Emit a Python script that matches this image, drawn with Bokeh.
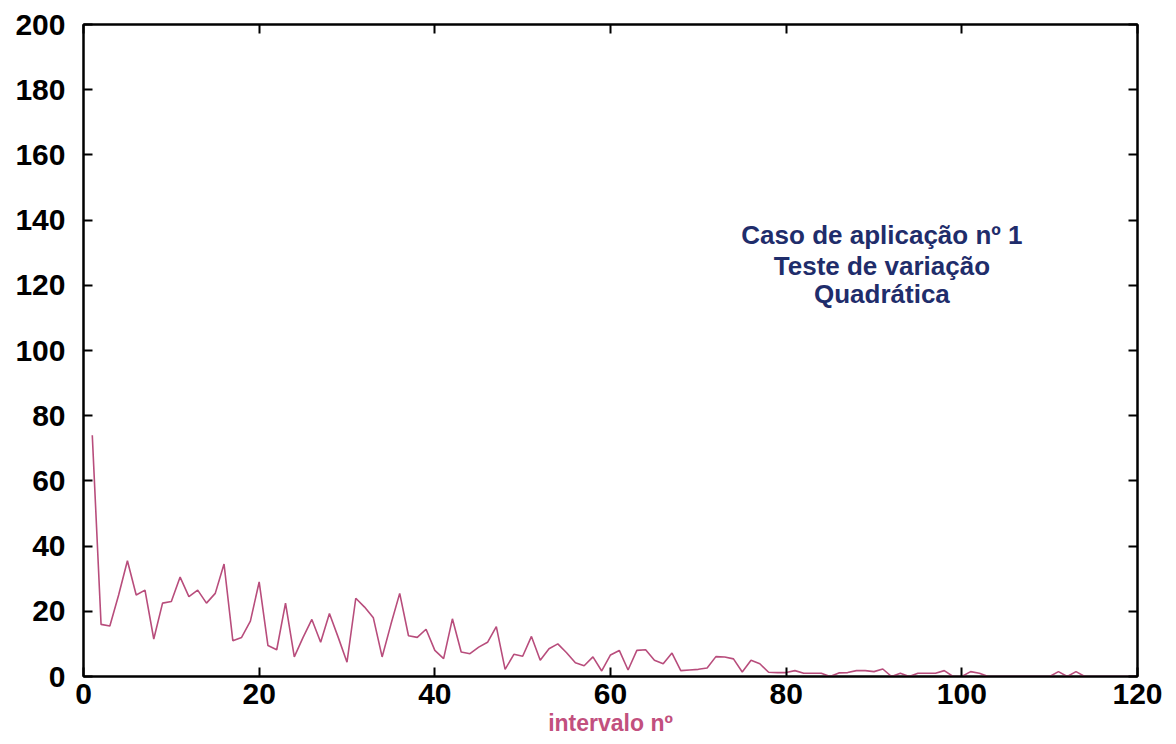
from bokeh.plotting import figure
from bokeh.models import Range1d, LinearAxis, FixedTicker, CustomJSTickFormatter, ColumnDataSource
from bokeh.core.properties import value
from bokeh.embed import file_html
from bokeh.resources import INLINE

# ---- data ----
intervalo = list(range(1, 121))
valores = [
    74, 16, 15.5, 25, 35.5, 25, 26.5, 11.5, 22.5, 23,
    30.5, 24.5, 26.5, 22.5, 25.5, 34.5, 11, 12, 17, 29,
    9.5, 8.2, 22.5, 6, 12, 17.5, 10.5, 19.3, 12, 4.4,
    24, 21.3, 18, 6, 16, 25.5, 12.5, 12, 14.5, 8,
    5.5, 17.7, 7.5, 7, 9, 10.5, 15.3, 2.2, 6.8, 6.2,
    12.3, 5, 8.5, 10, 7.3, 4.2, 3.3, 6, 1.7, 6.6,
    8, 2, 8, 8.2, 5, 3.9, 7.2, 1.8, 2, 2.2,
    2.6, 6.1, 6, 5.4, 1.4, 5, 3.9, 1.3, 1.2, 1.2,
    1.8, 1, 1, 1, 0, 1.1, 1.2, 1.8, 1.8, 1.5,
    2.3, 0, 1, 0, 1, 1, 1, 1.8, 0, 0,
    1.5, 1, 0, 0, 0, 0, 0, 0, 0, 0,
    1.5, 0, 1.5, 0, 0, 0, 0, 0, 0, 0,
]
x_ticks = [0, 20, 40, 60, 80, 100, 120]
y_ticks = [0, 20, 40, 60, 80, 100, 120, 140, 160, 180, 200]
x_label = "intervalo nº"
note_lines = ["Caso de aplicação nº 1", "Teste de variação", "Quadrática"]
note_x = [90.9, 90.9, 90.9]
note_y = [135.3, 126.0, 117.4]

FONT = "Liberation Sans"
LINE_COLOR = "#b84d7c"

p = figure(width=1176, height=744, output_backend="svg", toolbar_location=None,
           x_range=Range1d(0, 120), y_range=Range1d(0, 200),
           min_border_left=83, min_border_right=39, min_border_top=24, min_border_bottom=68)
p.background_fill_color = "white"
p.border_fill_color = "white"
p.grid.visible = False
p.outline_line_color = "black"
p.outline_line_width = 2

def style_axis(ax, ticks, labels=True):
    ax.ticker = FixedTicker(ticks=ticks)
    ax.major_tick_in = 9
    ax.major_tick_out = 0
    ax.minor_tick_in = 0
    ax.minor_tick_out = 0
    ax.major_tick_line_color = "black"
    ax.major_tick_line_width = 2
    ax.axis_line_color = "black"
    ax.axis_line_width = 2
    ax.major_label_text_font = FONT
    ax.major_label_text_font_style = "bold"
    ax.major_label_text_font_size = "30px"
    ax.major_label_text_color = "black"
    if not labels:
        ax.formatter = CustomJSTickFormatter(code="return ''")
        ax.major_label_standoff = 0

style_axis(p.xaxis[0], x_ticks)
style_axis(p.yaxis[0], y_ticks)
p.xaxis[0].major_label_standoff = 7
p.yaxis[0].major_label_standoff = 18
p.xaxis[0].axis_label = x_label
p.xaxis[0].axis_label_text_font = FONT
p.xaxis[0].axis_label_text_font_style = "bold"
p.xaxis[0].axis_label_text_font_size = "23px"
p.xaxis[0].axis_label_text_color = "#c2507e"
p.xaxis[0].axis_label_standoff = 3

top_ax = LinearAxis()
right_ax = LinearAxis()
style_axis(top_ax, x_ticks, labels=False)
style_axis(right_ax, y_ticks, labels=False)
p.add_layout(top_ax, "above")
p.add_layout(right_ax, "right")

src = ColumnDataSource(dict(x=intervalo, y=valores))
p.line("x", "y", source=src, line_color=LINE_COLOR, line_width=1.6)

nsrc = ColumnDataSource(dict(x=note_x, y=note_y, t=note_lines))
p.text("x", "y", text="t", source=nsrc, text_font=value(FONT), text_font_style="bold",
       text_font_size="26px", text_color="#1f2d6b", text_align="center",
       text_baseline="middle")

open("out.html", "w").write(file_html(p, INLINE))
